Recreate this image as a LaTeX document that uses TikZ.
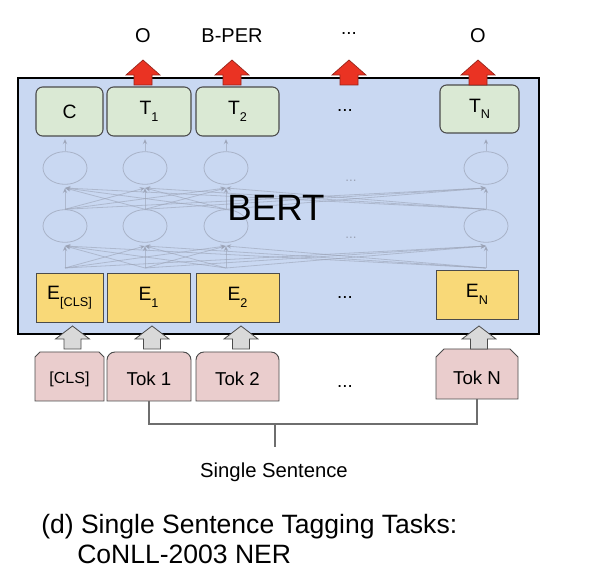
\documentclass[tikz,border=0pt]{standalone}
\usepackage{fontspec}
\setmainfont{Liberation Sans}
\usetikzlibrary{arrows.meta,shapes.geometric}
\definecolor{bertbg}{RGB}{201,216,242}
\definecolor{greenfill}{RGB}{218,233,212}
\definecolor{yellowfill}{RGB}{249,217,120}
\definecolor{pinkfill}{RGB}{234,205,205}
\definecolor{boxline}{RGB}{75,75,75}
\definecolor{redfill}{RGB}{234,51,35}
\definecolor{redline}{RGB}{150,35,25}
\definecolor{grayfill}{RGB}{217,217,217}
\definecolor{netcol}{RGB}{155,163,182}
\definecolor{bracketcol}{RGB}{110,110,110}
\newcommand{\sbs}[1]{\raisebox{-5pt}{\fontsize{9.5}{10}\selectfont #1}}
\tikzset{
  bertbox/.style={draw=black, line width=2.2pt, fill=bertbg, minimum width=390.75pt, minimum height=192pt, inner sep=0pt},
  greenbox/.style={draw=boxline, line width=0.8pt, fill=greenfill, rounded corners=5pt, minimum height=36.75pt, inner sep=0pt, font=\fontsize{14.5}{15}\selectfont},
  yellowbox/.style={draw=boxline, line width=0.7pt, fill=yellowfill, minimum height=36.75pt, inner sep=0pt, font=\fontsize{14.5}{15}\selectfont},
  tokshape/.style={draw=boxline, line width=0.7pt, fill=pinkfill},
  toktext/.style={inner sep=0pt, font=\fontsize{14}{15}\selectfont},
  netc/.style={ellipse, draw=netcol, draw opacity=0.7, line width=0.6pt, minimum width=33pt, minimum height=24.5pt, inner sep=0pt},
  netline/.style={draw=netcol, draw opacity=0.6, line width=0.6pt, -{Stealth[length=4pt,width=3.5pt]}},
  toplabel/.style={anchor=base, inner sep=0pt, font=\fontsize{15}{16}\selectfont},
  dotslabel/.style={anchor=base, inner sep=0pt, font=\fontsize{14}{15}\selectfont},
  redarrow/.style={fill=redfill, draw=redline, line width=0.5pt},
  grayarrow/.style={fill=grayfill, draw=boxline, line width=0.6pt},
  bracket/.style={draw=bracketcol, line width=0.8pt},
  pics/redarr/.style={code={\path[redarrow] (-9,0) -- (-9,-10) -- (-17,-10) -- (0,-25) -- (17,-10) -- (9,-10) -- (9,0) -- cycle;}},
  pics/grayarr/.style={code={\path[grayarrow] (-8.5,0) -- (-8.5,-10) -- (-17,-10) -- (0,-23) -- (17,-10) -- (8.5,-10) -- (8.5,0) -- cycle;}}
}
\begin{document}
\begin{tikzpicture}[x=0.75pt,y=-0.75pt]
\useasboundingbox (0,0) rectangle (610,580);
\fill[white] (0,0) rectangle (610,580);

% BERT box
\node[bertbox] (bert) at (278.5,206) {};

% network
\foreach \n/\x in {1/65,2/145,3/226,4/486} {
  \node[netc] (u\n) at (\x,168) {};
  \node[netc] (l\n) at (\x,226) {};
  \coordinate (uin\n) at (\x,188);
  \coordinate (lin\n) at (\x,246);
  \coordinate (lout\n) at (\x,268);
  \coordinate (tin\n) at (\x,139);
}
\foreach \i in {1,...,4} {
  \foreach \j in {1,...,4} {
    \draw[netline] (l\i.north) -- (uin\j);
    \draw[netline] (lout\i) -- (lin\j);
  }
  \draw[netline] (u\i.north) -- (tin\i);
}
\node[dotslabel, text=netcol, font=\fontsize{10}{10}\selectfont] (ndots1) at (351,182) {...};
\node[dotslabel, text=netcol, font=\fontsize{10}{10}\selectfont] (ndots2) at (351,239) {...};

\node[inner sep=0pt, font=\fontsize{27.5}{28}\selectfont] (bertlabel) at (276,208) {BERT};

% output boxes
\node[greenbox, minimum width=50.25pt] (c) at (69.5,111.5) {C};
\node[greenbox, minimum width=63pt] (t1) at (149,111.5) {T\sbs{1}};
\node[greenbox, minimum width=62.25pt] (t2) at (237.5,111.5) {T\sbs{2}};
\node[greenbox, minimum width=59.25pt, minimum height=36pt] (tn) at (479.5,109) {T\sbs{N}};
\node[dotslabel] (tdots) at (345,112) {...};

% embedding boxes
\node[yellowbox, minimum width=50.25pt] (ecls) at (69.5,297.5) {E\sbs{[CLS]}};
\node[yellowbox, minimum width=62.25pt] (e1) at (148.5,297.5) {E\sbs{1}};
\node[yellowbox, minimum width=62.25pt] (e2) at (237.5,297.5) {E\sbs{2}};
\node[yellowbox, minimum width=61.5pt] (en) at (477,294.5) {E\sbs{N}};
\node[dotslabel] (edots) at (345,299) {...};

% red output arrows
\pic at (143,85) {redarr};
\pic at (232,85) {redarr};
\pic at (349,85) {redarr};
\pic at (478,85) {redarr};

% output labels
\node[toplabel] (o1) at (143,43) {O};
\node[toplabel] (o2) at (232,43) {B-PER};
\node[dotslabel] (o3) at (349,35) {...};
\node[toplabel] (o4) at (478,43) {O};

% token boxes
\path[tokshape] (35,401) -- (35,357) -- (40,352) -- (99,352) -- (104,357) -- (104,401) -- cycle;
\path[tokshape, rounded corners=6pt] (107,401) -- (107,352) -- (191,352) [sharp corners] -- (191,401) -- cycle;
\path[tokshape, rounded corners=6pt] (196,401) -- (196,352) -- (279,352) [sharp corners] -- (279,401) -- cycle;
\path[tokshape] (436,399) -- (436,357) -- (444,349) -- (510,349) -- (518,357) -- (518,399) -- cycle;
\node[toktext, font=\fontsize{12}{13}\selectfont] (tcls) at (69.5,379) {[CLS]};
\node[toktext] (tok1) at (149,379) {Tok 1};
\node[toktext] (tok2) at (237.5,379) {Tok 2};
\node[toktext] (tokn) at (477,378) {Tok N};
\node[dotslabel] (kdots) at (345,388) {...};
\coordinate (tok1b) at (149,401);
\coordinate (toknb) at (477,399);

% gray input arrows
\pic at (72.5,349) {grayarr};
\pic at (152,349) {grayarr};
\pic at (241,349) {grayarr};
\pic at (479,349) {grayarr};

% bracket
\coordinate (bl) at (149,424);
\coordinate (br) at (477,424);
\coordinate (bm) at (275,424);
\coordinate (bs) at (275,447);
\draw[bracket] (tok1b) -- (bl) -- (br) -- (toknb);
\draw[bracket] (bm) -- (bs);

\node[anchor=base, inner sep=0pt, font=\fontsize{15.2}{16}\selectfont] (single) at (274,477) {Single Sentence};

\node[anchor=base west, inner sep=0pt, font=\fontsize{19.9}{20}\selectfont] (cap1) at (41,533) {(d) Single Sentence Tagging Tasks:};
\node[anchor=base west, inner sep=0pt, font=\fontsize{19.9}{20}\selectfont] (cap2) at (77,563) {CoNLL-2003 NER};
\end{tikzpicture}
\end{document}
